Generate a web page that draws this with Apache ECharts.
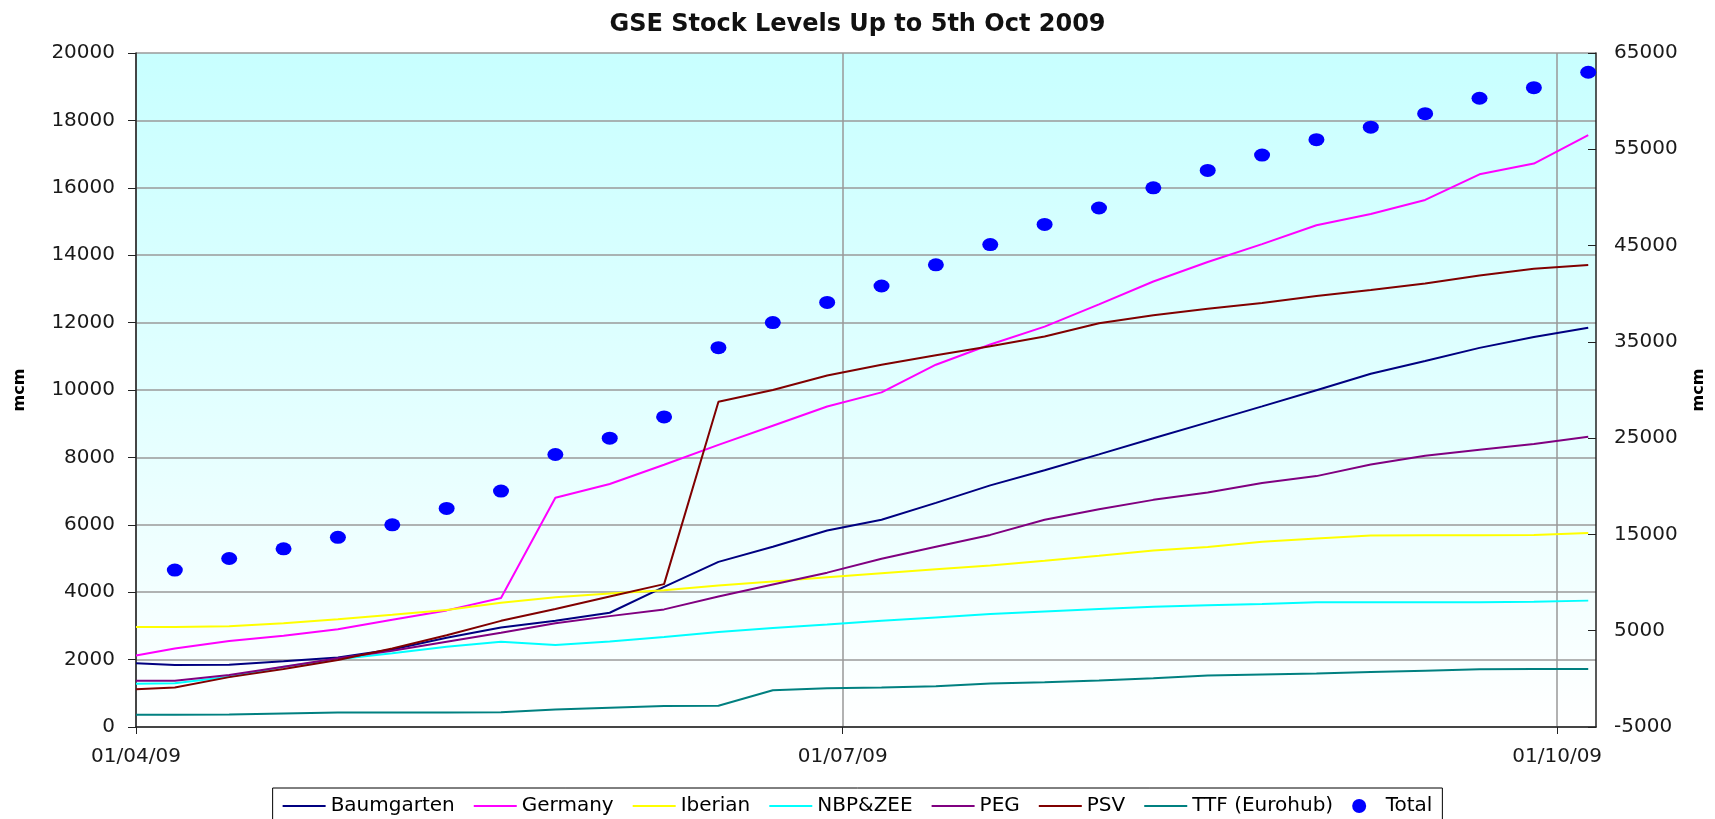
<!DOCTYPE html>
<html>
<head>
<meta charset="utf-8">
<title>GSE Stock Levels</title>
<script src="https://cdn.jsdelivr.net/npm/echarts@6/dist/echarts.min.js"></script>
<style>
  html, body { margin: 0; padding: 0; background: #fff; }
  #chart { width: 1715px; height: 819px; }
</style>
</head>
<body>
<div id="chart"></div>
<script>
// weekly readings (Mondays), the lines also carry the 1 April start value
const dates = [
  '2009-04-01', '2009-04-06', '2009-04-13', '2009-04-20', '2009-04-27',
  '2009-05-04', '2009-05-11', '2009-05-18', '2009-05-25', '2009-06-01',
  '2009-06-08', '2009-06-15', '2009-06-22', '2009-06-29', '2009-07-06',
  '2009-07-13', '2009-07-20', '2009-07-27', '2009-08-03', '2009-08-10',
  '2009-08-17', '2009-08-24', '2009-08-31', '2009-09-07', '2009-09-14',
  '2009-09-21', '2009-09-28', '2009-10-05'
]
const totalDates = dates.slice(1)

const baumgarten = [1890, 1840, 1850, 1950, 2060, 2300, 2650, 2950, 3150, 3390, 4160, 4900, 5350, 5830, 6150, 6650, 7170, 7620, 8090, 8570, 9040, 9515, 9995, 10480, 10860, 11250, 11570, 11850]
const germany = [2120, 2330, 2550, 2710, 2900, 3180, 3460, 3830, 6800, 7210, 7780, 8370, 8940, 9510, 9930, 10750, 11350, 11880, 12540, 13220, 13800, 14330, 14890, 15220, 15640, 16400, 16720, 17560]
const iberian = [2970, 2970, 2990, 3080, 3200, 3330, 3470, 3690, 3850, 3960, 4060, 4200, 4320, 4440, 4560, 4680, 4790, 4930, 5080, 5240, 5340, 5500, 5590, 5680, 5690, 5690, 5700, 5760]
const nbpZee = [1280, 1300, 1490, 1790, 2010, 2190, 2380, 2530, 2430, 2540, 2670, 2820, 2940, 3040, 3150, 3250, 3350, 3430, 3500, 3570, 3610, 3650, 3700, 3700, 3700, 3700, 3720, 3750]
const peg = [1370, 1370, 1540, 1790, 2040, 2260, 2530, 2800, 3080, 3290, 3490, 3870, 4230, 4580, 4990, 5350, 5700, 6150, 6460, 6740, 6960, 7240, 7445, 7790, 8050, 8230, 8400, 8610]
const psv = [1120, 1170, 1480, 1720, 1990, 2330, 2720, 3150, 3500, 3870, 4240, 9650, 10000, 10430, 10750, 11030, 11300, 11590, 11980, 12220, 12410, 12580, 12790, 12970, 13160, 13400, 13600, 13710]
const ttf = [360, 360, 370, 400, 430, 430, 430, 440, 520, 570, 620, 630, 1090, 1150, 1170, 1210, 1290, 1330, 1380, 1450, 1530, 1560, 1590, 1630, 1670, 1710, 1720, 1720]
const total = [11300, 12500, 13500, 14700, 16000, 17700, 19500, 23300, 25000, 27200, 34400, 37000, 39100, 40800, 43000, 45100, 47200, 48900, 51000, 52800, 54400, 56000, 57300, 58700, 60300, 61400, 63000]

const tickDates = ['2009-04-01', '2009-07-01', '2009-10-01']
const axisStart = '2009-04-01'
const axisEnd = '2009-10-06'

const FONT = 'DejaVu Sans'
const DAY = 86400000
// thin bar used as the legend sample for the line series
const LINE_ICON = 'path://M0,0 L43,0 L43,2 L0,2 Z'

function parseDay(s) {
  const [y, m, d] = s.split('-').map(Number)
  return Date.UTC(y, m - 1, d)
}

// the x axis counts days from axisStart
function dayOf(s) {
  return Math.round((parseDay(s) - parseDay(axisStart)) / DAY)
}

function formatDay(offset) {
  const d = new Date(parseDay(axisStart) + offset * DAY)
  const pad = n => String(n).padStart(2, '0')
  return pad(d.getUTCDate()) + '/' + pad(d.getUTCMonth() + 1) + '/' + String(d.getUTCFullYear()).slice(2)
}

function pairs(values, ds) {
  return values.map((v, i) => [dayOf(ds[i]), v])
}

function lineSeries(name, values, color) {
  return {
    name: name,
    type: 'line',
    data: pairs(values, dates),
    symbol: 'none',
    color: color,
    lineStyle: { width: 2, color: color },
    emphasis: { disabled: true }
  }
}

function initChart(chart) {
  const ticks = tickDates.map(dayOf)
  const labelStyle = { fontFamily: FONT, fontSize: 20, color: '#1a1a1a' }
  const lineNames = ['Baumgarten', 'Germany', 'Iberian', 'NBP&ZEE', 'PEG', 'PSV', 'TTF (Eurohub)']
  const option = {
    animation: false,
    backgroundColor: '#ffffff',
    title: {
      text: 'GSE Stock Levels Up to 5th Oct 2009',
      left: 'center',
      top: 8,
      textStyle: { fontFamily: FONT, fontWeight: 'bold', fontSize: 24, color: '#111' }
    },
    grid: {
      left: 136,
      right: 118,
      top: 53,
      bottom: 92,
      show: true,
      borderWidth: 0,
      backgroundColor: new echarts.graphic.LinearGradient(0, 0, 0, 1, [
        { offset: 0, color: '#c8ffff' },
        { offset: 0.55, color: '#e4ffff' },
        { offset: 1, color: '#ffffff' }
      ])
    },
    legend: {
      data: lineNames.map(n => ({ name: n, icon: LINE_ICON })).concat([{ name: 'Total', icon: 'circle' }]),
      left: 'center',
      top: 788,
      itemWidth: 43,
      itemHeight: 14,
      itemGap: 19,
      padding: [8, 10, 6, 10],
      borderColor: '#000',
      borderWidth: 1,
      textStyle: { fontFamily: FONT, fontSize: 20, color: '#000' }
    },
    xAxis: {
      type: 'value',
      min: 0,
      max: dayOf(axisEnd),
      axisLine: { lineStyle: { color: '#222', width: 1.5 } },
      axisTick: { customValues: ticks, length: 7, lineStyle: { color: '#222' } },
      axisLabel: Object.assign({ customValues: ticks, margin: 20, formatter: formatDay }, labelStyle),
      splitLine: { show: true, lineStyle: { color: '#999', width: 1.5 } }
    },
    yAxis: [
      {
        type: 'value',
        min: 0,
        max: 20000,
        interval: 2000,
        name: 'mcm',
        nameLocation: 'middle',
        nameRotate: 90,
        nameGap: 108,
        nameTextStyle: { fontFamily: FONT, fontWeight: 'bold', fontSize: 16, color: '#000' },
        axisLine: { show: true, lineStyle: { color: '#222', width: 1.5 } },
        axisTick: { show: true, length: 8, lineStyle: { color: '#222' } },
        axisLabel: Object.assign({ margin: 21, formatter: v => String(v) }, labelStyle),
        splitLine: { show: true, lineStyle: { color: '#9a9a9a', width: 1.5 } }
      },
      {
        type: 'value',
        position: 'right',
        min: -5000,
        max: 65000,
        interval: 10000,
        name: 'mcm',
        nameLocation: 'middle',
        nameRotate: 90,
        nameGap: 95,
        nameTextStyle: { fontFamily: FONT, fontWeight: 'bold', fontSize: 16, color: '#000' },
        axisLine: { show: true, lineStyle: { color: '#222', width: 1.5 } },
        axisTick: { show: true, inside: true, length: 8, lineStyle: { color: '#222' } },
        axisLabel: Object.assign({ margin: 18, formatter: v => String(v) }, labelStyle),
        splitLine: { show: false }
      }
    ],
    series: [
      lineSeries('Baumgarten', baumgarten, '#000080'),
      lineSeries('Germany', germany, '#ff00ff'),
      lineSeries('Iberian', iberian, '#ffff00'),
      lineSeries('NBP&ZEE', nbpZee, '#00ffff'),
      lineSeries('PEG', peg, '#800080'),
      lineSeries('PSV', psv, '#800000'),
      lineSeries('TTF (Eurohub)', ttf, '#008080'),
      {
        name: 'Total',
        type: 'scatter',
        yAxisIndex: 1,
        data: pairs(total, totalDates),
        symbol: 'circle',
        symbolSize: [16, 13],
        itemStyle: { color: '#0000ff', opacity: 1 },
        emphasis: { disabled: true }
      }
    ]
  }
  chart.setOption(option)
}

const myChart = echarts.init(document.getElementById('chart'))
initChart(myChart)
</script>
</body>
</html>
